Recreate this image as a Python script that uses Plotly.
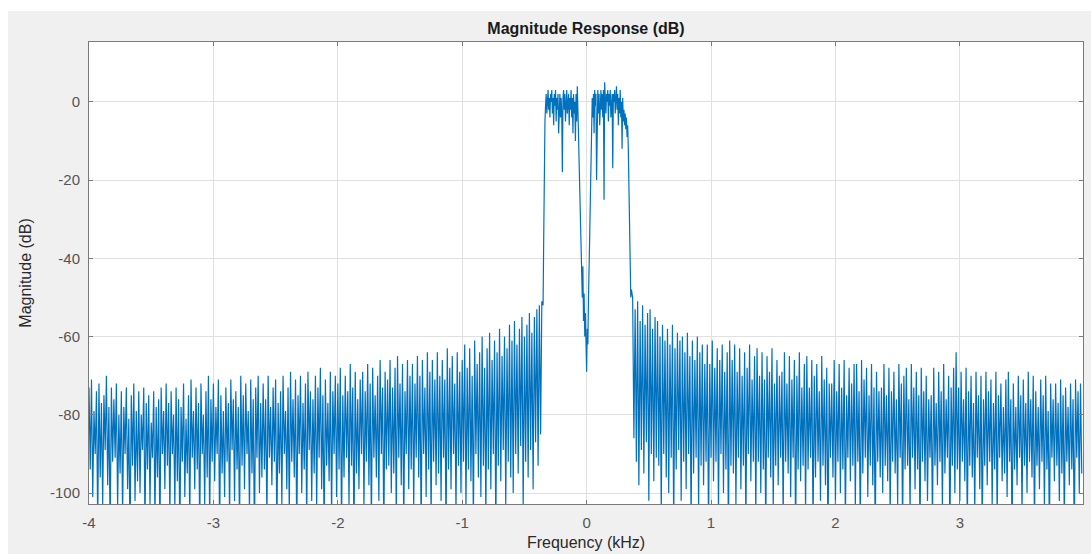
import numpy as np
import plotly.graph_objects as go

# Frequency grids (kHz) for the three segments of the response
stop_left_start, stop_left_step = -4.00, 0.01
pass_start, pass_step = -0.35, 0.005
stop_right_start, stop_right_step = 0.37, 0.01

# Magnitude (dB), read/
stop_left_db = [
    -73, -94, -71, -101, -79, -90, -74, -108, -72, -96, -77, -103, -75, -89, -70, -98, -78, -110, -73, -92,
    -76, -91, -72, -104, -80, -95, -74, -106, -78, -90, -73, -99, -81, -112, -75, -93, -72, -102, -79, -97,
    -74, -100, -80, -89, -73, -109, -77, -94, -75, -103, -82, -91, -74, -107, -78, -96, -76, -111, -73, -90,
    -79, -99, -72, -93, -77, -106, -74, -90, -80, -104, -73, -97, -76, -112, -78, -92, -72, -101, -81, -95,
    -75, -108, -71, -91, -79, -99, -73, -94, -77, -110, -72, -90, -80, -103, -74, -96, -70, -107, -76, -92,
    -72, -97, -78, -90, -71, -111, -75, -95, -79, -101, -73, -92, -77, -106, -71, -89, -76, -102, -74, -94,
    -78, -109, -70, -93, -75, -99, -72, -90, -79, -105, -71, -95, -76, -112, -73, -91, -70, -100, -77, -96,
    -72, -94, -76, -107, -70, -91, -78, -98, -73, -92, -71, -110, -77, -95, -74, -103, -70, -90, -79, -99,
    -73, -105, -69, -92, -76, -96, -71, -111, -75, -90, -70, -100, -77, -94, -72, -108, -69, -89, -74, -102,
    -76, -95, -70, -104, -73, -91, -68, -99, -75, -110, -71, -93, -77, -97, -69, -106, -74, -90, -70, -101,
    -72, -94, -68, -109, -75, -96, -70, -91, -74, -103, -67, -93, -73, -112, -69, -95, -76, -99, -71, -90,
    -69, -104, -74, -92, -67, -98, -72, -108, -68, -91, -75, -96, -70, -102, -66, -90, -73, -111, -69, -94,
    -71, -93, -66, -100, -73, -95, -68, -106, -65, -91, -72, -98, -67, -109, -74, -90, -66, -99, -70, -94,
    -67, -104, -72, -91, -65, -96, -70, -110, -66, -90, -73, -101, -64, -94, -69, -107, -66, -92, -71, -98,
    -64, -95, -70, -102, -66, -91, -71, -111, -63, -94, -68, -99, -65, -90, -72, -105, -64, -93, -69, -100,
    -66, -92, -62, -104, -68, -94, -63, -97, -70, -108, -61, -90, -67, -96, -64, -101, -60, -93, -68, -106,
    -63, -94, -59, -99, -66, -90, -61, -110, -64, -93, -58, -97, -65, -89, -60, -103, -63, -92, -57, -96,
    -61, -100, -56, -90, -62, -95, -58, -88, -55, -104, -60, -92, -57, -96, -54, -89, -59, -99, -55, -87,
    -53, -93, -52, -85, -51,
]

pass_db = [
    -52, -35, -15, -5, -1, 2, -3, 1, 3, -2,
    1, -4, 2, 0, 3, -3, 1, -6, 2, -1,
    3, -5, 1, -2, 2, -8, 0, 2, -4, 1,
    -3, -18, 1, 3, -2, 2, -5, 1, 3, -3,
    0, 2, -6, 1, -2, 3, -4, 1, -8, 2,
    -3, 0, -10, 2, -5, 4, -2, -9, -16, -24,
    -30, -38, -45, -50, -42, -56, -49, -60, -54, -66,
    -69, -58, -62, -50, -45, -34, -25, -14, -6, 1,
    -4, 2, -8, 3, -1, 2, -20, 1, 3, -3,
    2, -6, 1, 3, -2, 2, -4, 3, -25, 5,
    1, -3, 2, 0, 3, -5, 2, -1, 3, -4,
    1, 2, -17, 2, 0, 3, -3, 1, 4, -2,
    2, -6, 1, -3, 3, -4, 0, -12, 1, -5,
    -2, -6, -3, -7, -4, -9, -6, -12, -20, -33,
    -45, -50, -48,
]

stop_right_db = [
    -50, -86, -53, -92, -51, -98, -56, -89, -52, -95, -57, -87, -54, -102, -53, -90, -58, -97, -55, -91,
    -56, -93, -60, -106, -57, -90, -61, -96, -58, -100, -62, -91, -57, -109, -63, -94, -59, -89, -61, -102,
    -60, -92, -64, -99, -59, -90, -65, -108, -61, -95, -66, -91, -60, -104, -64, -93, -62, -98, -67, -92,
    -62, -110, -67, -91, -61, -97, -68, -92, -63, -105, -66, -90, -62, -100, -69, -94, -64, -112, -61, -93,
    -66, -95, -62, -103, -69, -91, -63, -99, -70, -93, -64, -109, -68, -90, -62, -97, -71, -92, -65, -106,
    -63, -92, -70, -100, -64, -94, -71, -111, -65, -91, -69, -96, -63, -104, -72, -93, -66, -98, -70, -91,
    -69, -107, -64, -92, -72, -95, -65, -101, -71, -91, -66, -112, -70, -94, -64, -97, -73, -93, -67, -105,
    -65, -94, -73, -91, -66, -109, -70, -96, -67, -92, -74, -102, -65, -93, -71, -98, -68, -113, -72, -91,
    -72, -96, -66, -103, -74, -92, -67, -100, -73, -94, -66, -108, -75, -91, -68, -97, -72, -93, -67, -104,
    -67, -92, -74, -110, -66, -95, -71, -91, -68, -101, -75, -93, -67, -98, -73, -112, -69, -92, -74, -96,
    -73, -100, -67, -93, -75, -97, -68, -106, -74, -92, -69, -95, -76, -103, -67, -91, -72, -109, -70, -94,
    -68, -93, -76, -105, -67, -91, -73, -99, -69, -94, -75, -111, -68, -92, -74, -97, -70, -102, -76, -91,
    -75, -108, -68, -93, -77, -98, -69, -92, -74, -104, -67, -95, -76, -91, -70, -112, -73, -93, -68, -100,
    -64, -94, -73, -102, -69, -92, -76, -97, -68, -109, -74, -93, -70, -96, -77, -105, -69, -91, -75, -99,
    -70, -110, -76, -93, -69, -98, -74, -92, -71, -103, -77, -94, -69, -107, -75, -91, -72, -97, -78, -95,
    -71, -101, -69, -92, -76, -112, -72, -94, -78, -98, -70, -91, -75, -105, -71, -93, -77, -100, -69, -92,
    -76, -96, -70, -109, -74, -93, -78, -99, -71, -92, -75, -104, -70, -94, -79, -111, -72, -91, -76, -97,
    -72, -93, -77, -102, -71, -95, -75, -108, -73, -92, -78, -98, -72, -94, -76, -113, -71, -91, -74, -100,
    -72, -95,
]

x_ticks = [-4, -3, -2, -1, 0, 1, 2, 3]
y_ticks = [0, -20, -40, -60, -80, -100]

f_left = np.round(stop_left_start + stop_left_step * np.arange(len(stop_left_db)), 4)
f_pass = np.round(pass_start + pass_step * np.arange(len(pass_db)), 4)
f_right = np.round(stop_right_start + stop_right_step * np.arange(len(stop_right_db)), 4)

freq = np.concatenate([f_left, f_pass, f_right])
mag = np.concatenate([stop_left_db, pass_db, stop_right_db])

fig = go.Figure()
fig.add_trace(go.Scatter(x=freq, y=mag, mode="lines",
                         line=dict(color="#0072BD", width=1.2), hoverinfo="x+y"))

W, H = 1091, 554
ml, mr, mt, mb = 89, 8, 42, 50
pw, ph = W - ml - mr, H - mt - mb

# white strips at the top and left of the (grey) figure
fig.add_shape(type="rect", xref="paper", yref="paper", layer="below",
              x0=-ml / pw, x1=1 + mr / pw, y0=1 + (mt - 11) / ph, y1=1 + mt / ph,
              fillcolor="white", line_width=0)
fig.add_shape(type="rect", xref="paper", yref="paper", layer="below",
              x0=-ml / pw, x1=-(ml - 8) / pw, y0=-mb / ph, y1=1 + mt / ph,
              fillcolor="white", line_width=0)

FONT = "Liberation Sans, Arial"
axis_common = dict(showline=True, linecolor="#7a7a7a", linewidth=1, mirror="allticks",
                   ticks="inside", ticklen=4, tickcolor="#7a7a7a",
                   showgrid=True, gridcolor="#e0e0e0", gridwidth=1, zeroline=False,
                   automargin=False,
                   tickfont=dict(family=FONT, size=15, color="#555555"))

fig.update_xaxes(range=[-4, 3.99], tickvals=x_ticks, ticktext=[str(t) for t in x_ticks],
                 ticklabelstandoff=5,
                 title=dict(text="Frequency (kHz)", standoff=6,
                            font=dict(family=FONT, size=16, color="#2a2a2a")),
                 **axis_common)
fig.update_yaxes(range=[-102.8, 15.3], tickvals=y_ticks, ticktext=[str(t) for t in y_ticks],
                 ticklabelstandoff=5,
                 title=dict(text="Magnitude (dB)", standoff=14,
                            font=dict(family=FONT, size=16, color="#2a2a2a")),
                 **axis_common)

fig.update_layout(
    width=W, height=H,
    margin=dict(l=ml, r=mr, t=mt, b=mb),
    paper_bgcolor="#f0f0f0", plot_bgcolor="white",
    showlegend=False,
    title=dict(text="<b>Magnitude Response (dB)</b>", x=(ml + pw / 2) / W, xanchor="center",
               y=1 - 28 / H, yanchor="middle",
               font=dict(family=FONT, size=16, color="#1a1a1a")),
)

fig.write_html("out.html")
